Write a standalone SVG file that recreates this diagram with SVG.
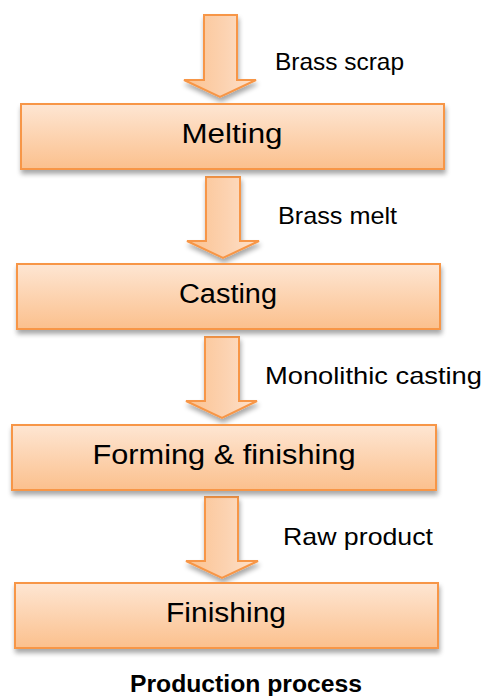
<svg xmlns="http://www.w3.org/2000/svg" width="486" height="696" viewBox="0 0 486 696">
<defs>
<linearGradient id="boxg" x1="0" y1="0" x2="0" y2="1">
<stop offset="0" stop-color="#fee6d3"/>
<stop offset="1" stop-color="#fbc08d"/>
</linearGradient>
<linearGradient id="arrg" x1="0" y1="0" x2="1" y2="0">
<stop offset="0" stop-color="#fbc290"/>
<stop offset="0.55" stop-color="#fcd2b0"/>
<stop offset="1" stop-color="#fde2cd"/>
</linearGradient>
<filter id="sh" x="-10%" y="-20%" width="125%" height="150%">
<feGaussianBlur in="SourceAlpha" stdDeviation="2.5"/>
<feOffset dx="1" dy="4" result="b"/>
<feComponentTransfer><feFuncA type="linear" slope="0.35"/></feComponentTransfer>
<feMerge><feMergeNode/><feMergeNode in="SourceGraphic"/></feMerge>
</filter>
</defs>
<style>
.box{fill:url(#boxg);stroke:#f79646;stroke-width:2;filter:url(#sh)}
.arr{fill:url(#arrg);stroke:#f79646;stroke-width:2;stroke-linejoin:miter;filter:url(#sh)}
.bt{font-family:"Liberation Sans",Arial,sans-serif;font-size:27px;fill:#000;text-anchor:middle}
.lt{font-family:"Liberation Sans",Arial,sans-serif;font-size:24px;fill:#000}
.tt{font-family:"Liberation Sans",Arial,sans-serif;font-size:23px;font-weight:bold;fill:#000;text-anchor:middle}
</style>
<g id="connectors">
<path class="arr" d="M204,15 H237 V80 H256 L220,97 L184,80 H204 Z"/>
<path class="arr" d="M206,177 H240 V241 H259 L223,258 L187,241 H206 Z"/>
<path class="arr" d="M205,337 H239 V401 H257 L222,418 L186,401 H205 Z"/>
<path class="arr" d="M205,497 H238 V561 H258 L222,578 L186,561 H205 Z"/>
</g>
<g id="label1"><text class="lt" x="275" y="70" textLength="129" lengthAdjust="spacingAndGlyphs">Brass scrap</text></g>
<g id="label2"><text class="lt" x="278" y="224" textLength="119" lengthAdjust="spacingAndGlyphs">Brass melt</text></g>
<g id="label3"><text class="lt" x="265" y="384" textLength="217" lengthAdjust="spacingAndGlyphs">Monolithic casting</text></g>
<g id="label4"><text class="lt" x="283" y="545" textLength="150" lengthAdjust="spacingAndGlyphs">Raw product</text></g>
<g id="melting">
<rect class="box" x="21" y="104" width="423" height="65"/>
<text class="bt" x="232" y="143" textLength="101" lengthAdjust="spacingAndGlyphs">Melting</text>
</g>
<g id="casting">
<rect class="box" x="17" y="264" width="423" height="65"/>
<text class="bt" x="228" y="303" textLength="98" lengthAdjust="spacingAndGlyphs">Casting</text>
</g>
<g id="forming">
<rect class="box" x="12" y="425" width="424" height="65"/>
<text class="bt" x="224" y="464" textLength="263" lengthAdjust="spacingAndGlyphs">Forming &amp; finishing</text>
</g>
<g id="finishing">
<rect class="box" x="15" y="583" width="423" height="65"/>
<text class="bt" x="226" y="622" textLength="120" lengthAdjust="spacingAndGlyphs">Finishing</text>
</g>
<g id="title"><text class="tt" x="246" y="692" textLength="232" lengthAdjust="spacingAndGlyphs">Production process</text></g>
</svg>
